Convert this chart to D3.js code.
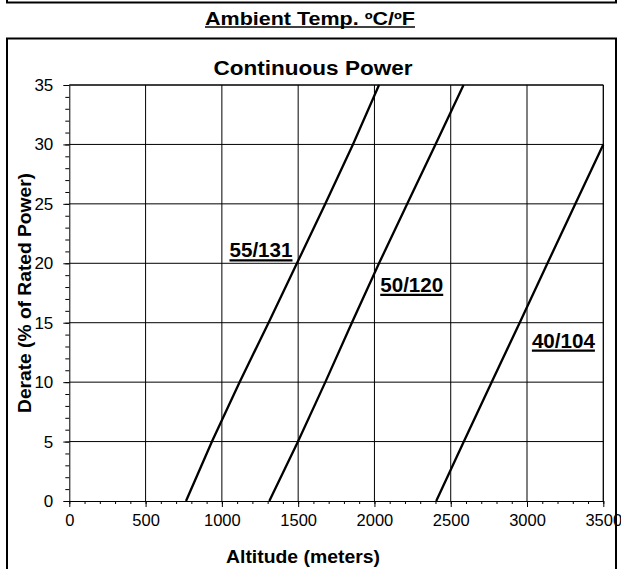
<!DOCTYPE html>
<html>
<head>
<meta charset="utf-8">
<script src="https://cdn.jsdelivr.net/npm/d3@7"></script>
<style>
  body { margin: 0; background: #fff; }
  text { font-family: "Liberation Sans", Arial, sans-serif; fill: #000; }
</style>
</head>
<body>
<div id="chart"></div>
<script>
// Data
let derateLevels = [0, 5, 10, 15, 20, 25, 30, 35];
let alt55 = [765, 935, 1116, 1306, 1492, 1678, 1859, 2030];
let alt50 = [1311, 1499, 1678, 1852, 2030, 2215, 2400, 2584];
let alt40 = [2405, 2586, 2768, 2952, 3134, 3317, 3500];
let seriesNames = ["55/131", "50/120", "40/104"];
let xTicks = [0, 500, 1000, 1500, 2000, 2500, 3000, 3500];
let yTicks = [0, 5, 10, 15, 20, 25, 30, 35];

// label anchors in data units (altitude, derate)
let labelAnchors = [[1050, 20.5], [2038, 17.6], [3032, 12.9]];

// SVG area
let svgWidth = 621;
let svgHeight = 569;

let margin = { top: 85, left: 69.3 };
let width = 534;
let height = 416;

let svg = d3.select("#chart")
  .append("svg")
  .attr("width", svgWidth)
  .attr("height", svgHeight);

// Scales
let xScale = d3.scaleLinear().domain([0, 3500]).range([0, width]);
let yScale = d3.scaleLinear().domain([0, 35]).range([height, 0]);

// top box remnant (previous chart)
svg.append("path")
  .attr("d", "M7,0 V2.5 H616 V0")
  .attr("fill", "none")
  .attr("stroke", "#000")
  .attr("stroke-width", 2);

// Heading above box
svg.append("text")
  .attr("x", 310)
  .attr("y", 25)
  .attr("text-anchor", "middle")
  .attr("font-size", "18px")
  .attr("font-weight", "bold")
  .attr("textLength", 210)
  .attr("lengthAdjust", "spacingAndGlyphs")
  .text("Ambient Temp. ºC/ºF");
svg.append("line")
  .attr("x1", 205).attr("x2", 415)
  .attr("y1", 27).attr("y2", 27)
  .attr("stroke", "#000")
  .attr("stroke-width", 1.6);

// Title
svg.append("text")
  .attr("x", 313)
  .attr("y", 75)
  .attr("text-anchor", "middle")
  .attr("font-size", "19.5px")
  .attr("font-weight", "bold")
  .attr("textLength", 199)
  .attr("lengthAdjust", "spacingAndGlyphs")
  .text("Continuous Power");

let chartGroup = svg.append("g")
  .attr("transform", `translate(${margin.left}, ${margin.top})`);

// Gridlines
chartGroup.append("g")
  .selectAll("line")
  .data(xTicks.slice(1))
  .enter()
  .append("line")
  .attr("x1", d => xScale(d)).attr("x2", d => xScale(d))
  .attr("y1", 0).attr("y2", height)
  .attr("stroke", "#000")
  .attr("stroke-width", 1);

chartGroup.append("g")
  .selectAll("line")
  .data(yTicks.slice(1))
  .enter()
  .append("line")
  .attr("x1", 0).attr("x2", width)
  .attr("y1", d => yScale(d)).attr("y2", d => yScale(d))
  .attr("stroke", "#000")
  .attr("stroke-width", 1);

// Minor ticks
let xMinor = d3.range(0, 3501, 100);
let yMinor = d3.range(0, 36, 1);

chartGroup.append("g")
  .attr("transform", `translate(0, ${height})`)
  .call(d3.axisBottom(xScale).tickValues(xMinor).tickSize(3).tickFormat(""))
  .call(g => g.select(".domain").remove());

chartGroup.append("g")
  .call(d3.axisLeft(yScale).tickValues(yMinor).tickSize(4).tickFormat(""))
  .call(g => g.select(".domain").remove());

// Major axes
let xAxis = chartGroup.append("g")
  .attr("transform", `translate(0, ${height})`)
  .call(d3.axisBottom(xScale).tickValues(xTicks).tickSize(6).tickSizeOuter(0).tickPadding(7).tickFormat(d3.format("d")));
xAxis.selectAll("text")
  .attr("font-size", "16.5px")
  .attr("font-family", "Liberation Sans, Arial, sans-serif");

let yAxis = chartGroup.append("g")
  .call(d3.axisLeft(yScale).tickValues(yTicks).tickSize(6).tickSizeOuter(0).tickPadding(10));
yAxis.selectAll("text")
  .attr("font-size", "17px")
  .attr("font-family", "Liberation Sans, Arial, sans-serif");

chartGroup.selectAll(".domain, .tick line").attr("stroke", "#000");

// frame top and right
chartGroup.append("path")
  .attr("d", `M0,0 H${width} V${height}`)
  .attr("fill", "none")
  .attr("stroke", "#000")
  .attr("stroke-width", 1);

// Curves
let seriesAlt = [alt55, alt50, alt40];
let line = d3.line()
  .x(d => xScale(d[0]))
  .y(d => yScale(d[1]));

seriesAlt.forEach((alts, i) => {
  let pts = alts.map((a, j) => [a, derateLevels[j]]);
  chartGroup.append("path")
    .datum(pts)
    .attr("d", line)
    .attr("fill", "none")
    .attr("stroke", "#000")
    .attr("stroke-width", 2.3);
});

// Series labels with underline
seriesNames.forEach((name, i) => {
  let lx = xScale(labelAnchors[i][0]);
  let ly = yScale(labelAnchors[i][1]);
  chartGroup.append("text")
    .attr("x", lx)
    .attr("y", ly)
    .attr("font-size", "20px")
    .attr("font-weight", "bold")
    .attr("textLength", 63)
    .attr("lengthAdjust", "spacingAndGlyphs")
    .text(name);
  chartGroup.append("line")
    .attr("x1", lx).attr("x2", lx + 63)
    .attr("y1", ly + 3).attr("y2", ly + 3)
    .attr("stroke", "#000")
    .attr("stroke-width", 2.2);
});

// Axis titles
svg.append("text")
  .attr("x", 303)
  .attr("y", 563)
  .attr("text-anchor", "middle")
  .attr("font-size", "17.5px")
  .attr("font-weight", "bold")
  .attr("textLength", 154)
  .attr("lengthAdjust", "spacingAndGlyphs")
  .text("Altitude (meters)");

svg.append("text")
  .attr("transform", `translate(31, ${margin.top + height / 2}) rotate(-90)`)
  .attr("text-anchor", "middle")
  .attr("font-size", "18.5px")
  .attr("font-weight", "bold")
  .attr("textLength", 240)
  .attr("lengthAdjust", "spacingAndGlyphs")
  .text("Derate (% of Rated Power)");

// Outer box drawn last so it clips over the 3500 label
svg.append("path")
  .attr("d", `M7,${svgHeight} V38.5 H616 V${svgHeight}`)
  .attr("fill", "none")
  .attr("stroke", "#000")
  .attr("stroke-width", 2);
</script>
</body>
</html>
